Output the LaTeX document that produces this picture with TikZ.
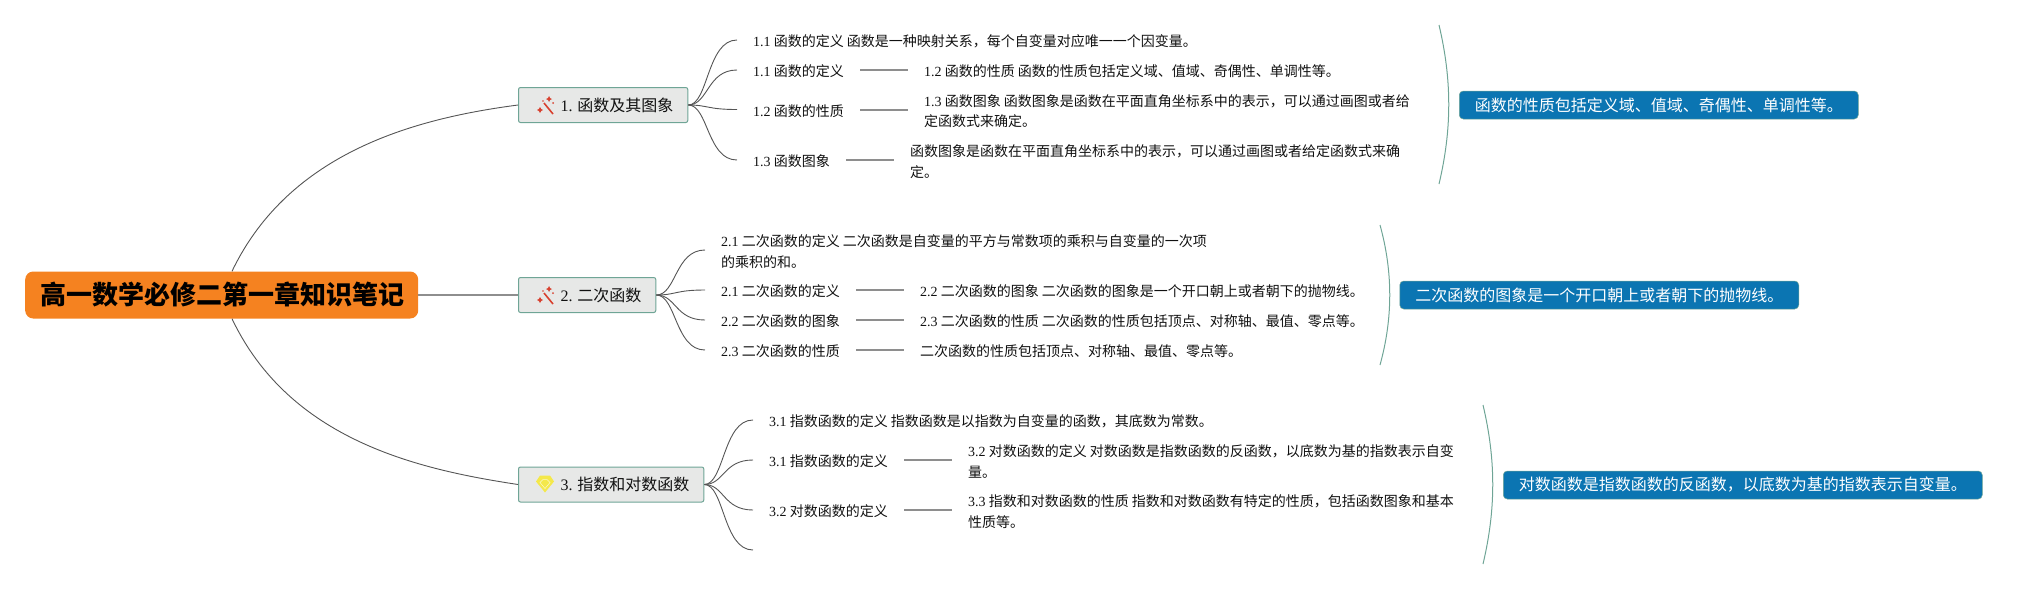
\documentclass[tikz,border=0pt]{standalone}
\usepackage{fontspec}
\setmainfont{Noto Sans CJK SC}
\newfontfamily\latf{Liberation Serif}
\newcommand\lat[1]{{\latf #1}}
\newcommand\tl[1]{\rule[-0.4pt]{0pt}{15.4pt}#1}
\definecolor{inkc}{HTML}{111111}
\definecolor{orangec}{HTML}{F58220}
\definecolor{greyf}{HTML}{E7E8E7}
\definecolor{tealc}{HTML}{6FA596}
\definecolor{bluec}{HTML}{0B75B2}
\definecolor{linec}{HTML}{555555}
\definecolor{barc}{HTML}{8E8E8E}
\definecolor{wandc}{HTML}{D8412F}
\definecolor{gemc}{HTML}{F4E84A}
\tikzset{
  rootbox/.style={rectangle,rounded corners=8pt,fill=orangec,text=black,inner xsep=14pt,minimum height=47pt,anchor=west,font=\fontsize{26}{30}\selectfont\bfseries},
  mainbox/.style={rectangle,rounded corners=2pt,draw=tealc,line width=1pt,fill=greyf,text=inkc,inner xsep=14.5pt,minimum height=35pt,anchor=west,font=\fontsize{16}{20}\selectfont},
  txt/.style={rectangle,anchor=west,inner xsep=16pt,inner ysep=0pt,align=left,text=inkc,font=\fontsize{14}{20.5}\selectfont},
  callout/.style={rectangle,rounded corners=4pt,fill=bluec,draw=tealc,line width=.5pt,text=white,inner xsep=15.5pt,minimum height=28pt,anchor=west,font=\fontsize{16}{20}\selectfont},
  curve/.style={draw=linec,line width=.9pt},
  bar/.style={draw=barc,line width=2pt},
  brace/.style={draw=tealc,line width=1pt},
  wand/.pic={
    \draw[wandc,line width=1.6pt] (-1,-2) -- (8,9);
    \fill[wandc] (4,-9) -- (5,-7) -- (7,-6) -- (5,-5) -- (4,-3) -- (3,-5) -- (1,-6) -- (3,-7) -- cycle;
    \fill[wandc] (-5,2) -- (-3.8,4) -- (-2,5) -- (-3.8,6) -- (-5,8) -- (-6.2,6) -- (-8,5) -- (-6.2,4) -- cycle;
    \fill[wandc] (8,-2) circle (1pt);
    \fill[wandc] (-2,-4) circle (.8pt);
  },
  gem/.pic={
    \fill[gemc] (-5,-9) -- (5,-9) -- (9,-3) -- (0,8) -- (-9,-3) -- cycle;
    \draw[white,line width=.5pt,opacity=.7] (-5,-2) -- (0,4) -- (5,-2) -- (2,-5) -- (-2,-5) -- cycle;
  }
}
\begin{document}
\begin{tikzpicture}[x=1pt,y=-1pt]
\useasboundingbox (0,0) rectangle (2027,590);
% root and main topics
\node[rootbox] (root) at (25,295) {\hspace*{1pt}高一数学必修二第一章知识笔记};
\node[mainbox] (n1) at (518,105) {\hspace*{27.5pt}\lat{1.} 函数及其图象};
\node[mainbox] (n2) at (518,295) {\hspace*{27.5pt}\lat{2.} 二次函数};
\node[mainbox] (n3) at (518,484.5) {\hspace*{27.5pt}\lat{3.} 指数和对数函数};
\pic at ([xshift=27pt]n1.west) {wand};
\pic at ([xshift=27pt]n2.west) {wand};
\pic at ([xshift=27pt]n3.west) {gem};
\draw[curve] ([xshift=207pt]root.north west) .. controls +(58,-121) and +(-99,13) .. (n1.west);
\draw[bar] (root.east) -- (n2.west);
\draw[curve] ([xshift=207pt]root.south west) .. controls +(58,122) and +(-99,-15) .. (n3.west);
% section 1
\node[txt] (a1) at (737,40) {\tl{\lat{1.1} 函数的定义 函数是一种映射关系，每个自变量对应唯一一个因变量。}};
\node[txt] (l11) at (737,70) {\tl{\lat{1.1} 函数的定义}};
\node[txt] (l12) at (737,109.5) {\tl{\lat{1.2} 函数的性质}};
\node[txt] (l13) at (737,160) {\tl{\lat{1.3} 函数图象}};
\node[txt] (r11) at (908,70) {\tl{\lat{1.2} 函数的性质 函数的性质包括定义域、值域、奇偶性、单调性等。}};
\node[txt] (r12) at (908,109.5) {\tl{\lat{1.3} 函数图象 函数图象是函数在平面直角坐标系中的表示，可以通过画图或者给}\\\tl{定函数式来确定。}};
\node[txt] (r13) at (894,160) {\tl{函数图象是函数在平面直角坐标系中的表示，可以通过画图或者给定函数式来确}\\\tl{定。}};
\foreach \t in {a1,l11,l12,l13}
  \draw[curve] (n1.east) .. controls +(20,0) and +(-30,0) .. (\t.west);
\draw[bar] (l11.east) -- (r11.west);
\draw[bar] (l12.east) -- (r12.west);
\draw[bar] (l13.east) -- (r13.west);
% section 2
\node[txt] (a2) at (705,250) {\tl{\lat{2.1} 二次函数的定义 二次函数是自变量的平方与常数项的乘积与自变量的一次项}\\\tl{的乘积的和。}};
\node[txt] (l21) at (705,290) {\tl{\lat{2.1} 二次函数的定义}};
\node[txt] (l22) at (705,320) {\tl{\lat{2.2} 二次函数的图象}};
\node[txt] (l23) at (705,350) {\tl{\lat{2.3} 二次函数的性质}};
\node[txt] (r21) at (904,290) {\tl{\lat{2.2} 二次函数的图象 二次函数的图象是一个开口朝上或者朝下的抛物线。}};
\node[txt] (r22) at (904,320) {\tl{\lat{2.3} 二次函数的性质 二次函数的性质包括顶点、对称轴、最值、零点等。}};
\node[txt] (r23) at (904,350) {\tl{二次函数的性质包括顶点、对称轴、最值、零点等。}};
\foreach \t in {a2,l21,l22,l23}
  \draw[curve] (n2.east) .. controls +(20,0) and +(-30,0) .. (\t.west);
\draw[bar] (l21.east) -- (r21.west);
\draw[bar] (l22.east) -- (r22.west);
\draw[bar] (l23.east) -- (r23.west);
% section 3
\node[txt] (a3) at (753,420) {\tl{\lat{3.1} 指数函数的定义 指数函数是以指数为自变量的函数，其底数为常数。}};
\node[txt] (l31) at (753,460) {\tl{\lat{3.1} 指数函数的定义}};
\node[txt] (l32) at (753,510) {\tl{\lat{3.2} 对数函数的定义}};
\coordinate (l33) at (753,550);
\node[txt] (r31) at (952,460) {\tl{\lat{3.2} 对数函数的定义 对数函数是指数函数的反函数，以底数为基的指数表示自变}\\\tl{量。}};
\node[txt] (r32) at (952,510) {\tl{\lat{3.3} 指数和对数函数的性质 指数和对数函数有特定的性质，包括函数图象和基本}\\\tl{性质等。}};
\foreach \t in {a3,l31,l32}
  \draw[curve] (n3.east) .. controls +(20,0) and +(-30,0) .. (\t.west);
\draw[curve] (n3.east) .. controls +(20,0) and +(-30,0) .. (l33);
\draw[bar] (l31.east) -- (r31.west);
\draw[bar] (l32.east) -- (r32.west);
% summaries
\node[callout] (c1) at (1459,105) {函数的性质包括定义域、值域、奇偶性、单调性等。};
\node[callout] (c2) at (1399.5,295) {二次函数的图象是一个开口朝上或者朝下的抛物线。};
\node[callout] (c3) at (1503,485) {对数函数是指数函数的反函数，以底数为基的指数表示自变量。};
\coordinate (b1t) at (1439,25); \coordinate (b1b) at (1439,184);
\coordinate (b2t) at (1380,225); \coordinate (b2b) at (1380,365);
\coordinate (b3t) at (1483,405); \coordinate (b3b) at (1483,564);
\draw[brace] (b1t) .. controls +(13,55) and +(13,-55) .. (b1b);
\draw[brace] (b2t) .. controls +(13,47) and +(13,-47) .. (b2b);
\draw[brace] (b3t) .. controls +(13,55) and +(13,-55) .. (b3b);
\end{tikzpicture}
\end{document}
